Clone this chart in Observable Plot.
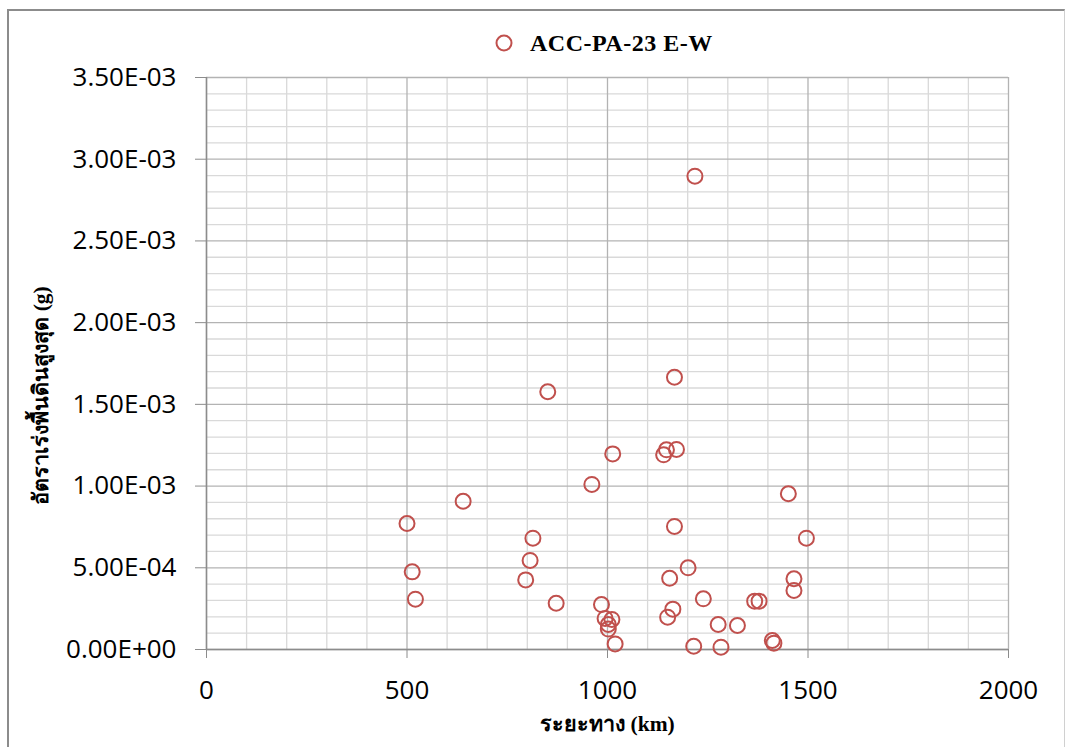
<!DOCTYPE html>
<html><head><meta charset="utf-8">
<script src="https://cdn.jsdelivr.net/npm/d3@7"></script>
<script src="https://cdn.jsdelivr.net/npm/@observablehq/plot@0.6"></script>
<style>
html,body{margin:0;padding:0;background:#fff}
body{width:1065px;height:747px;overflow:hidden;position:relative}
#frame{position:absolute;left:7px;top:9px;width:1058px;height:780px;border:2px solid #8c8c8c;border-right:1px solid #d0d0d0;box-sizing:border-box}
#legend{position:absolute;top:30px;left:494px;height:26px;display:flex;align-items:center}
#legend svg{display:block}
#legend span{margin-left:16px;font:bold 24px "Liberation Serif","Times New Roman",serif;letter-spacing:0.5px;color:#000;white-space:nowrap}
#chart{position:absolute;left:0;top:55px}
#chart svg{overflow:visible;background:transparent}
</style></head><body>
<div id="frame"></div>
<div id="legend"><svg width="20" height="20"><circle cx="10" cy="10" r="7.5" fill="none" stroke="#C0504D" stroke-width="2"/></svg><span>ACC-PA-23 E-W</span></div>
<div id="chart"></div>
<script>
// Series: ACC-PA-23 E-W
const distanceKm = [500, 640, 513, 521, 851, 814, 807, 796, 872, 961, 1013, 985, 994, 1011, 1002, 1002, 1019,
  1218, 1167, 1140, 1147, 1172, 1167, 1155, 1201, 1163, 1150, 1239, 1215, 1276, 1324, 1283,
  1367, 1378, 1411, 1415, 1451, 1496, 1465, 1465];
const pgaG = [7.71e-4, 9.07e-4, 4.75e-4, 3.08e-4, 1.577e-3, 6.81e-4, 5.45e-4, 4.26e-4, 2.83e-4, 1.010e-3, 1.197e-3,
  2.75e-4, 1.90e-4, 1.84e-4, 1.53e-4, 1.25e-4, 3.4e-5,
  2.896e-3, 1.666e-3, 1.191e-3, 1.222e-3, 1.224e-3, 7.53e-4, 4.36e-4, 5.00e-4, 2.47e-4, 1.98e-4, 3.10e-4, 2.0e-5,
  1.53e-4, 1.47e-4, 1.4e-5, 2.96e-4, 2.96e-4, 5.5e-5, 3.9e-5, 9.53e-4, 6.81e-4, 4.33e-4, 3.61e-4];
const seriesName = "ACC-PA-23 E-W";

// Axes
const xTicks = [0, 500, 1000, 1500, 2000];
const xTickLabels = ["0", "500", "1000", "1500", "2000"];
const yTicks = [0, 0.0005, 0.001, 0.0015, 0.002, 0.0025, 0.003, 0.0035];
const yTickLabels = ["0.00E+00", "5.00E-04", "1.00E-03", "1.50E-03", "2.00E-03", "2.50E-03", "3.00E-03", "3.50E-03"];
const xMinorStep = 100;
const yMinorStep = 0.0001;
const xTitle = "ระยะทาง (km)";
const yTitle = "อัตราเร่งพื้นดินสูงสุด (g)";

const data = distanceKm.map((d, i) => ({x: d, y: pgaG[i]}));
const xMinor = d3.range(0, 2000 + 1e-9, xMinorStep).filter(v => !xTicks.includes(v));
const yMinor = d3.range(0, 36).map(i => +(i * yMinorStep).toFixed(5)).filter(v => !yTicks.some(t => Math.abs(t - v) < 1e-9));

const tickFont = {fontFamily: "'Open Sans', sans-serif", fontSize: 26};
const titleFont = {fontFamily: "'Liberation Serif','Times New Roman',serif", fontWeight: "bold", fontSize: 21.5};

const chart = Plot.plot({
  width: 1065,
  height: 692,
  marginLeft: 206,
  marginRight: 57,
  marginTop: 22,
  marginBottom: 98,
  style: {background: "transparent", color: "#000", overflow: "visible"},
  x: {domain: [0, 2000]},
  y: {domain: [0, 0.0035]},
  marks: [
    Plot.gridX(xMinor, {stroke: "#d9d9d9", strokeOpacity: 1, strokeWidth: 1.3}),
    Plot.gridY(yMinor, {stroke: "#d9d9d9", strokeOpacity: 1, strokeWidth: 1.3}),
    Plot.gridX(xTicks, {stroke: "#b3b3b3", strokeOpacity: 1, strokeWidth: 1.3}),
    Plot.gridY(yTicks, {stroke: "#b3b3b3", strokeOpacity: 1, strokeWidth: 1.3}),
    Plot.ruleX([0], {stroke: "#8c8c8c", strokeWidth: 1.5}),
    Plot.ruleY([0], {stroke: "#8c8c8c", strokeWidth: 1.5}),
    Plot.axisX(xTicks, {tickFormat: d => xTickLabels[xTicks.indexOf(d)], tickSize: 9, tickPadding: 22, stroke: "#8c8c8c", label: null, ...tickFont}),
    Plot.axisY(yTicks, {tickFormat: d => yTickLabels[yTicks.indexOf(d)], tickSize: 11, tickPadding: 19, stroke: "#8c8c8c", label: null, ...tickFont}),
    Plot.dot(data, {x: "x", y: "y", r: 7.5, stroke: "#C0504D", strokeWidth: 2, fill: "none"}),
    Plot.text([xTitle], {text: d => d, frameAnchor: "bottom", dy: 75, textAnchor: "middle", lineAnchor: "middle", ...titleFont}),
    Plot.text([yTitle], {text: d => d, frameAnchor: "left", dx: -165, dy: 32, rotate: -90, textAnchor: "middle", lineAnchor: "middle", ...titleFont})
  ]
});
document.getElementById("chart").appendChild(chart);
</script>
</body></html>
